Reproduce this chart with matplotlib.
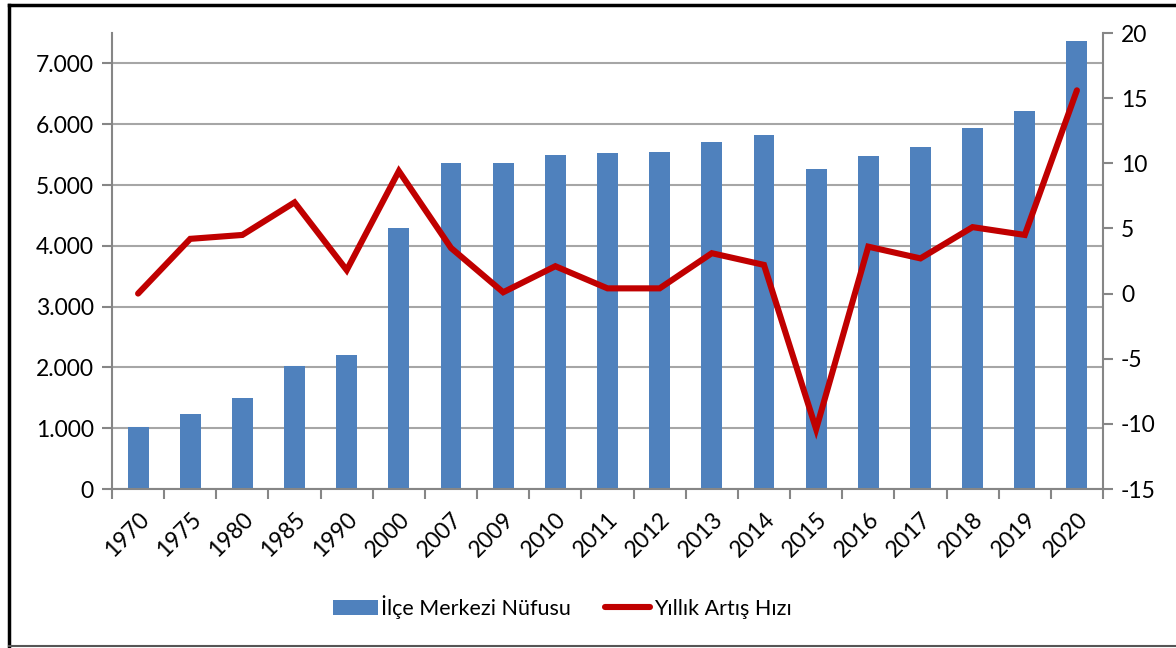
import matplotlib
matplotlib.use("Agg")
import matplotlib.pyplot as plt
import numpy as np
from matplotlib.lines import Line2D

plt.rcParams['font.family'] = ['Lato', 'DejaVu Sans']
plt.rcParams['axes.unicode_minus'] = False

years = ['1970', '1975', '1980', '1985', '1990', '2000', '2007', '2009', '2010', '2011',
         '2012', '2013', '2014', '2015', '2016', '2017', '2018', '2019', '2020']
nufus = [1020, 1235, 1500, 2025, 2205, 4285, 5355, 5370, 5500, 5520,
         5535, 5700, 5830, 5270, 5470, 5620, 5930, 6210, 7365]
artis = [0.0, 4.2, 4.5, 7.0, 1.8, 9.4, 3.5, 0.1, 2.1, 0.4,
         0.4, 3.1, 2.2, -10.4, 3.6, 2.7, 5.1, 4.5, 15.6]

bar_col = '#4F81BD'
line_col = '#C00000'
grid_col = '#A6A6A6'
spine_col = '#868686'

fig = plt.figure(figsize=(11.76, 6.48), dpi=100)
ax = fig.add_axes([112/1176, 1-489/648, (1103-112)/1176, (489-33)/648])
ax2 = ax.twinx()

x = np.arange(len(years))
ax.bar(x, nufus, width=0.4, color=bar_col, zorder=2, label='İlçe Merkezi Nüfusu')
ax2.plot(x, artis, color=line_col, lw=4.4, solid_capstyle='round', solid_joinstyle='miter',
         zorder=3, label='Yıllık Artış Hızı')

ax.set_xlim(-0.5, len(years) - 0.5)
ax.set_ylim(0, 7500)
ax.set_yticks(range(0, 7001, 1000))
ax.set_yticklabels(['0' if v == 0 else '{:,}'.format(v).replace(',', '.') for v in range(0, 7001, 1000)])
ax2.set_ylim(-15, 20)
ax2.set_yticks(range(-15, 21, 5))

ax.set_xticks(x)
ax.set_xticklabels(years, rotation=45, ha='right', rotation_mode='anchor', fontsize=16.5)
ax.set_xticks(np.arange(-0.5, len(years), 1), minor=True)
ax.tick_params(axis='x', which='major', length=0, pad=14)
ax.tick_params(axis='x', which='minor', length=7, width=1.5, color=spine_col, direction='out')
ax.tick_params(axis='y', labelsize=16.5, length=7, width=1.5, color=spine_col, pad=6)
ax2.tick_params(axis='y', labelsize=16.5, length=7, width=1.5, color=spine_col, pad=6)

ax.yaxis.grid(True, color=grid_col, lw=1.5, zorder=0)
ax.set_axisbelow(True)

for a in (ax, ax2):
    a.spines['top'].set_visible(False)
    for s in ('left', 'right', 'bottom'):
        a.spines[s].set_color(spine_col)
        a.spines[s].set_linewidth(1.5)
ax.spines['right'].set_visible(False)
ax2.spines['left'].set_visible(False)
ax2.spines['bottom'].set_visible(False)

h1, l1 = ax.get_legend_handles_labels()
h2, l2 = ax2.get_legend_handles_labels()
fig.legend(h1 + h2, l1 + l2, loc='center', bbox_to_anchor=(562/1176, 1-607/648), ncol=2,
           frameon=False, fontsize=15.5, handlelength=2.1, handletextpad=0.15, columnspacing=1.6)

# outer frame
fig.add_artist(Line2D([9/1176, 9/1176], [1-5/648, 1-646/648], color='black', lw=2.5))
fig.add_artist(Line2D([9/1176, 1], [1-5/648, 1-5/648], color='black', lw=2.5))
fig.add_artist(Line2D([9/1176, 1], [1-646/648, 1-646/648], color='#555555', lw=1.5))

fig.savefig('out.png', dpi=100)
